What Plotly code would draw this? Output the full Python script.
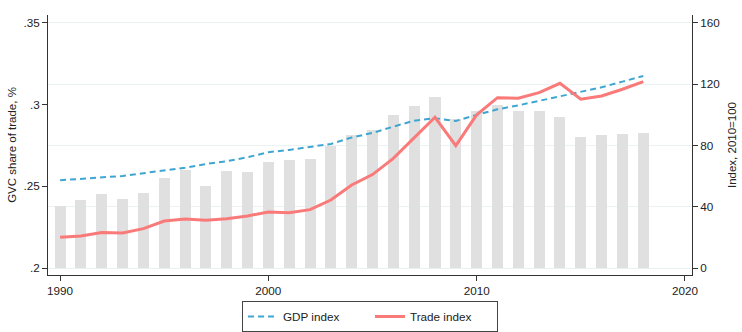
import plotly.graph_objects as go

years = list(range(1990, 2019))
gvc_share = [0.238, 0.2415, 0.2455, 0.242, 0.246, 0.255, 0.260, 0.250, 0.2596, 0.2585,
             0.265, 0.266, 0.2667, 0.275, 0.2817, 0.2847, 0.2935, 0.2992, 0.3047, 0.291,
             0.2963, 0.2998, 0.2963, 0.2959, 0.2927, 0.280, 0.2815, 0.2819, 0.2825]
gdp_index = [57.3, 58.1, 59.0, 60.1, 61.9, 63.6, 65.5, 67.9, 69.7, 72.3,
             75.6, 77.1, 79.0, 81.0, 85.2, 88.2, 92.3, 96.2, 97.8, 96.0,
             100.0, 103.6, 106.2, 109.1, 112.1, 115.2, 118.0, 121.7, 125.4]
trade_index = [20.0, 20.9, 23.1, 22.9, 25.7, 30.7, 32.0, 31.1, 32.2, 34.0,
               36.6, 36.1, 38.1, 44.4, 54.2, 61.0, 71.6, 84.7, 98.4, 79.9,
               100.0, 111.2, 110.8, 114.5, 120.6, 110.2, 112.3, 116.7, 121.7]
bar_base = 0.2
left_ticks = [0.2, 0.25, 0.3, 0.35]
left_ticktext = [".2", ".25", ".3", ".35"]
right_ticks = [0, 40, 80, 120, 160]
x_ticks = [1990, 2000, 2010, 2020]

family = "Liberation Sans, Arial, sans-serif"
font = dict(family=family, size=11.7, color="#222")
title_font = dict(family=family, size=11.5, color="#222")

fig = go.Figure()
fig.add_trace(go.Bar(
    x=years, y=[v - bar_base for v in gvc_share], base=bar_base,
    width=0.53, marker=dict(color="#e0e0e0", line=dict(width=0)),
    showlegend=False, yaxis="y"))
fig.add_trace(go.Scatter(
    x=years, y=gdp_index, mode="lines", name="GDP index",
    line=dict(color="#3fa6d2", width=2, dash="6px,4px"), yaxis="y2"))
fig.add_trace(go.Scatter(
    x=years, y=trade_index, mode="lines", name="Trade index",
    line=dict(color="#fa7a7a", width=3), yaxis="y2"))

axis_common = dict(showline=True, linecolor="#333", linewidth=1, ticks="outside",
                   ticklen=5, tickcolor="#333", tickfont=font, zeroline=False)

fig.update_layout(
    width=742, height=332,
    margin=dict(l=48, r=50, t=15, b=57, autoexpand=False),
    paper_bgcolor="white", plot_bgcolor="white",
    font=font,
    bargap=0,
    xaxis=dict(range=[1989.42, 2020.34], tickvals=x_ticks, showgrid=False, **axis_common),
    yaxis=dict(range=[0.19573, 0.35488], tickvals=left_ticks, ticktext=left_ticktext,
               showgrid=False, title=dict(text="GVC share of trade, %", font=title_font, standoff=4),
               **axis_common),
    yaxis2=dict(range=[-4.57, 165.2], tickvals=right_ticks, overlaying="y", side="right",
                showgrid=True, gridcolor="#eaf2f3", gridwidth=1,
                title=dict(text="Index, 2010=100", font=title_font, standoff=8),
                **axis_common),
    legend=dict(orientation="h", x=0.5, xanchor="center", y=-0.1, yanchor="top",
                bordercolor="#444", borderwidth=1, font=font, bgcolor="white",
                itemwidth=30, entrywidth=82, tracegroupgap=0),
)

fig.write_html("out.html")
